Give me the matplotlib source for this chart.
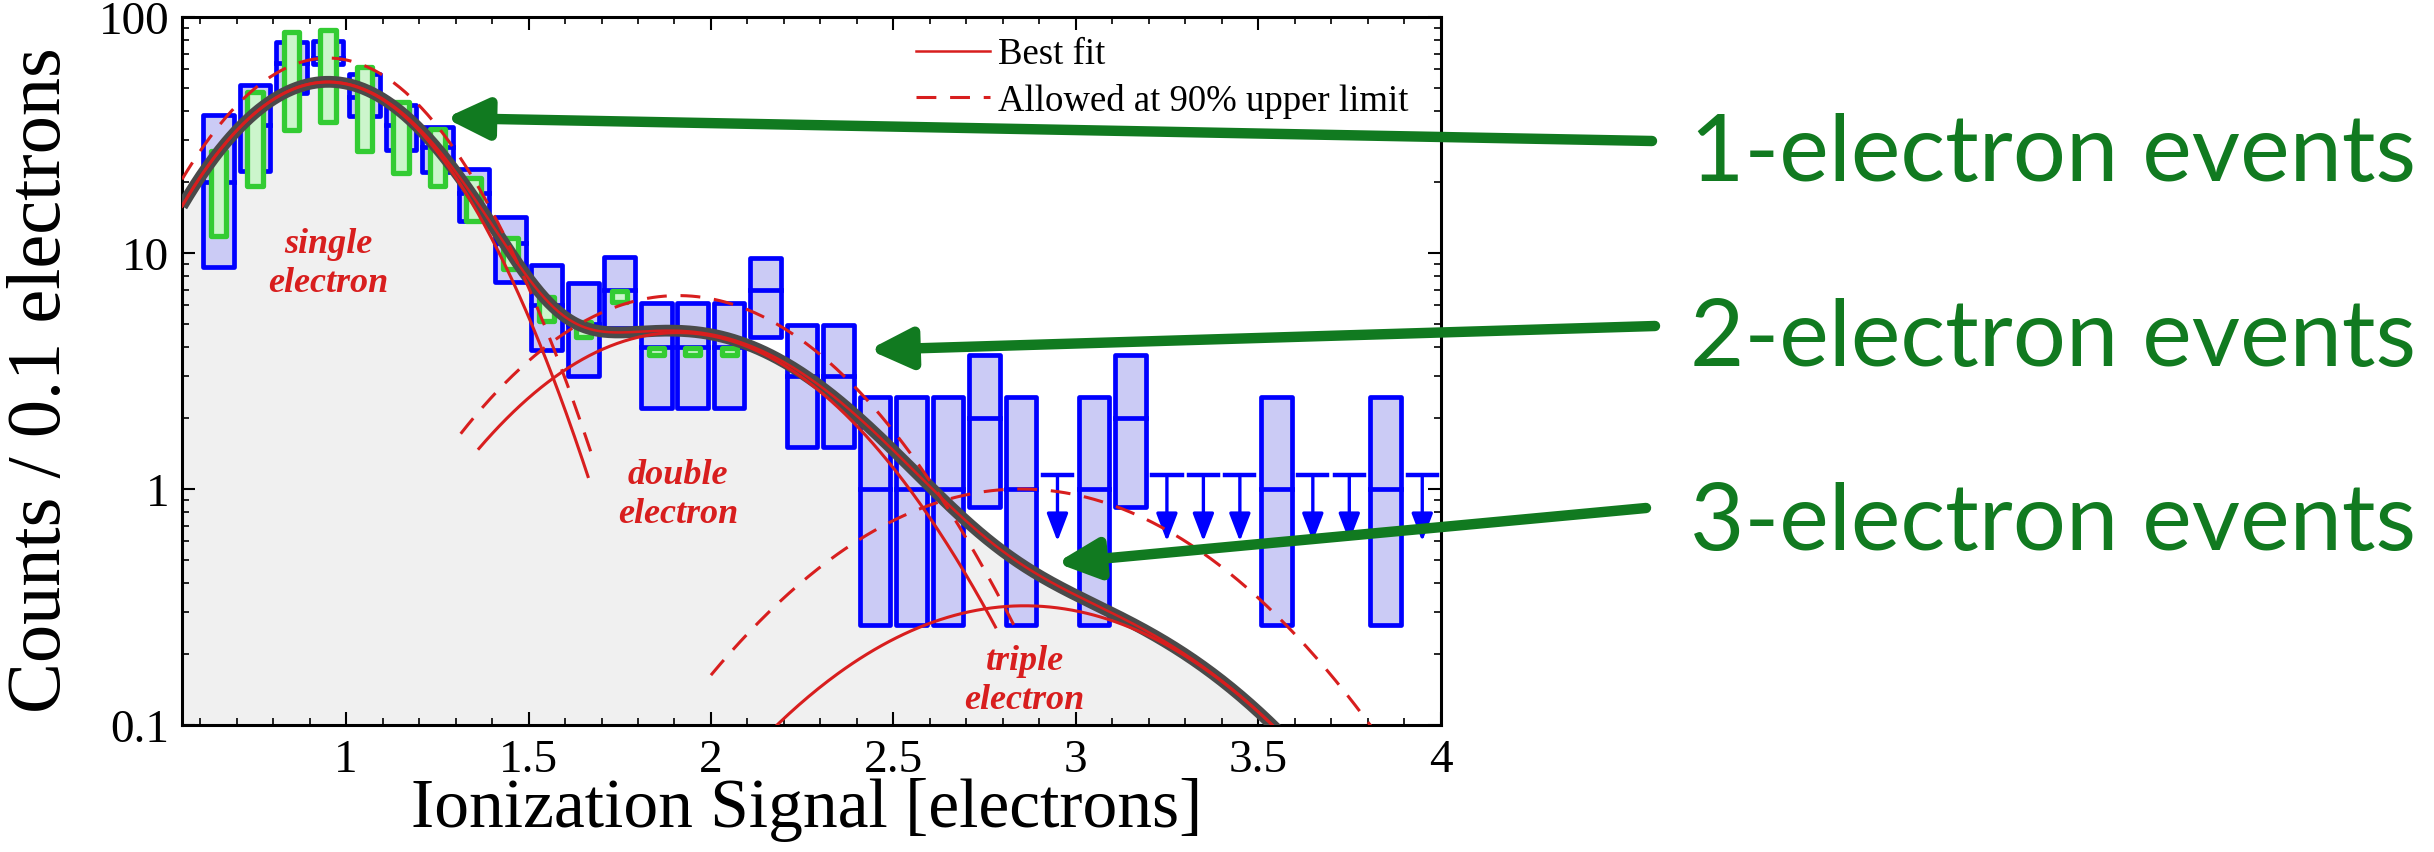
import numpy as np
import matplotlib.pyplot as plt
from matplotlib.ticker import MultipleLocator, LogLocator, FuncFormatter, NullFormatter

# --- measured bins (counts per 0.1 electrons) ---
box_x = [0.65, 0.75, 0.85, 0.95, 1.05, 1.15, 1.25, 1.35, 1.45, 1.55, 1.65, 1.75, 1.85, 1.95,
         2.05, 2.15, 2.25, 2.35, 2.45, 2.55, 2.65, 2.75, 2.85, 3.05, 3.15, 3.55, 3.85]
box_mid = [20, 35, 64, 67, 46, 35, 28, 18, 11, 6, 5, 7, 4, 4,
           4, 7, 3, 3, 1, 1, 1, 2, 1, 1, 2, 1, 1]
box_lo = [8.75, 22.3, 47.5, 63, 37.9, 27.4, 22, 13.7, 7.5, 3.9, 3.0, 4.8, 2.2, 2.2,
          2.2, 4.4, 1.5, 1.5, 0.265, 0.265, 0.265, 0.84, 0.265, 0.265, 0.84, 0.265, 0.265]
box_hi = [38.4, 51.5, 78.6, 79.4, 57.3, 42.4, 34.1, 22.7, 14.2, 8.9, 7.46, 9.6, 6.14, 6.14,
          6.14, 9.55, 4.95, 4.95, 2.45, 2.45, 2.45, 3.7, 2.45, 2.45, 3.7, 2.45, 2.45]

# second (green) data set
green_x = [0.65, 0.75, 0.85, 0.95, 1.05, 1.15, 1.25, 1.35, 1.45, 1.55, 1.65, 1.75, 1.85, 1.95, 2.05]
green_lo = [11.8, 19.2, 33.3, 35.8, 27.1, 21.8, 19.2, 13.7, 8.55, 5.17, 4.4, 6.2, 3.7, 3.7, 3.7]
green_hi = [27.1, 48.3, 86.1, 88.3, 61.2, 43.5, 33.5, 20.7, 11.6, 6.5, 5.1, 6.9, 3.95, 3.95, 3.95]

# empty bins shown as upper limits
limit_x = [2.95, 3.25, 3.35, 3.45, 3.65, 3.75, 3.95]
limit_val = 1.15
limit_tip = 0.6

# gaussian components: best fit and 90% upper limit (peak, mean, sigma, drawn range)
fit_peak = [53, 4.6, 0.32]
fit_mean = [0.95, 1.91, 2.86]
fit_sigma = [0.257, 0.363, 0.445]
fit_range = [(0.55, 1.663), (1.364, 2.78), (2.0, 4.0)]
ul_peak = [67, 6.6, 1.0]
ul_mean = [0.95, 1.91, 2.85]
ul_sigma = [0.26, 0.363, 0.446]
ul_range = [(0.55, 1.68), (1.314, 2.83), (2.0, 4.0)]

comp_labels = ['single\nelectron', 'double\nelectron', 'triple\nelectron']
comp_label_pos = [(0.95, 9.05), (1.91, 0.95), (2.86, 0.155)]

event_labels = ['1-electron events', '2-electron events', '3-electron events']
arrow_tips = [(1.272, 37.3), (2.433, 3.89), (2.947, 0.486)]

BLUE = '#0000ff'
LAV = '#cbcbf5'
GREEN_E = '#33cc33'
GREEN_F = '#ccf5cc'
RED = '#d81e1e'
DGRAY = '#4a4a4a'
TXTGREEN = '#117a20'

plt.rcParams['font.family'] = ['Liberation Serif', 'DejaVu Serif']

W, H = 2434, 853
fig = plt.figure(figsize=(W / 100, H / 100), dpi=100)
ax = fig.add_axes([182 / W, 1 - 726 / H, (1440.5 - 182) / W, (726 - 18) / H])
ax.set_yscale('log')
ax.set_xlim(0.55, 4.0)
ax.set_ylim(0.1, 100)


def gauss(x, a, m, s):
    return a * np.exp(-(x - m) ** 2 / (2 * s ** 2))


# shaded area under best-fit total
xs = np.linspace(0.55, 4.0, 800)
total = sum(gauss(xs, a, m, s) for a, m, s in zip(fit_peak, fit_mean, fit_sigma))
ax.fill_between(xs, 0.01, total, color='#f0f0f0', lw=0, zorder=0.5)

# blue boxes
bw = 0.084
for x, lo, mid, hi in zip(box_x, box_lo, box_mid, box_hi):
    ax.bar(x, hi - lo, bottom=lo, width=bw, color=LAV, edgecolor=BLUE, lw=3.4,
           joinstyle='round', zorder=1)
    ax.plot([x - bw / 2, x + bw / 2], [mid, mid], color=BLUE, lw=3.4, zorder=1.1)

# green boxes
gw = 0.042
ax.bar(green_x, np.array(green_hi) - np.array(green_lo), bottom=green_lo, width=gw,
       color=GREEN_F, edgecolor=GREEN_E, lw=3.8, joinstyle='round', zorder=2)

# upper limits
for x in limit_x:
    ax.plot([x - 0.04, x + 0.04], [limit_val, limit_val], color=BLUE, lw=3.2, zorder=2)
    ax.annotate('', xy=(x, limit_tip), xytext=(x, limit_val),
                arrowprops=dict(arrowstyle='-|>,head_length=1.7,head_width=0.65',
                                color=BLUE, lw=2.4, mutation_scale=10,
                                shrinkA=0, shrinkB=0), zorder=2)

# best-fit total: thick gray with thin red on top
ax.plot(xs, total, color=DGRAY, lw=8.5, solid_capstyle='butt', zorder=4)
ax.plot(xs, total, color=RED, lw=1.8, zorder=5, label='Best fit')

# components
for i in range(3):
    x0, x1 = fit_range[i]
    xc = np.linspace(x0, x1, 300)
    ax.plot(xc, gauss(xc, fit_peak[i], fit_mean[i], fit_sigma[i]), color=RED, lw=2.2, zorder=5)
    x0, x1 = ul_range[i]
    xc = np.linspace(x0, x1, 300)
    ax.plot(xc, gauss(xc, ul_peak[i], ul_mean[i], ul_sigma[i]), color=RED, lw=2.2,
            dashes=(6.5, 4.5), zorder=5, label='Allowed at 90% upper limit' if i == 0 else None)

for txt, (x, y) in zip(comp_labels, comp_label_pos):
    ax.text(x, y, txt, color=RED, fontsize=26, fontweight='bold', fontstyle='italic',
            ha='center', va='center', linespacing=1.25, zorder=6)

# axes styling
for sp in ax.spines.values():
    sp.set_linewidth(2.2)
ax.xaxis.set_major_locator(MultipleLocator(0.5))
ax.xaxis.set_minor_locator(MultipleLocator(0.1))
ax.xaxis.set_major_formatter(FuncFormatter(lambda v, p: f'{v:g}'))
ax.yaxis.set_major_locator(LogLocator(base=10))
ax.yaxis.set_minor_locator(LogLocator(base=10, subs=np.arange(2, 10)))
ax.yaxis.set_major_formatter(FuncFormatter(lambda v, p: f'{v:g}'))
ax.yaxis.set_minor_formatter(NullFormatter())
ax.tick_params(which='both', direction='in', top=True, right=True, labelsize=34)
ax.tick_params(which='major', length=9.5, width=1.5)
ax.tick_params(which='minor', length=5, width=1.2)
ax.tick_params(axis='x', pad=10)
ax.tick_params(axis='y', pad=9)

fig.text(807 / W, 1 - 778 / H, 'Ionization Signal [electrons]', fontsize=50,
         ha='center', va='top')
fig.text(42 / W, 1 - 380 / H, 'Counts / 0.1 electrons', fontsize=55, rotation=90,
         ha='center', va='center')

leg = ax.legend(loc='upper left', bbox_to_anchor=(916 / W, 1 - 38 / H),
                bbox_transform=fig.transFigure, frameon=False, fontsize=26.5,
                handlelength=2.0, handletextpad=0.22, labelspacing=0.3,
                borderpad=0, borderaxespad=0)
leg.set_zorder(7)

# right-hand annotations
tails = [(1652, 142), (1655, 327), (1646, 509)]
baselines = [181, 366, 550]
for lab, tip, tail, base in zip(event_labels, arrow_tips, tails, baselines):
    fig.text(1690 / W, 1 - base / H, lab, fontsize=67.5, family='Lato', color=TXTGREEN,
             ha='left', va='baseline')
    ax.annotate('', xy=tip, xycoords='data',
                xytext=(tail[0] / W, 1 - tail[1] / H), textcoords='figure fraction',
                arrowprops=dict(arrowstyle='-|>,head_length=2.5,head_width=1.2',
                                color=TXTGREEN, lw=7.5, mutation_scale=10,
                                shrinkA=0, shrinkB=0), zorder=10)

fig.savefig('out.png', dpi=100)
